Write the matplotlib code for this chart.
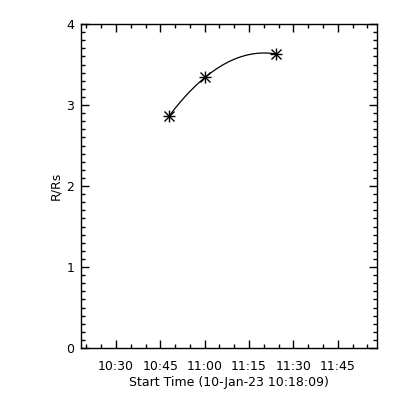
import numpy as np
import matplotlib
matplotlib.use("Agg")
import matplotlib.pyplot as plt
import matplotlib.dates as mdates
from matplotlib.ticker import MultipleLocator
from datetime import datetime, timedelta

# --- Data ---
start_time = datetime(2023, 1, 10, 10, 18, 9)
obs_times = ["10:48:05", "11:00:05", "11:24:05"]
heights = [2.87, 3.34, 3.63]          # R/Rs
x_ticks = ["10:30", "10:45", "11:00", "11:15", "11:30", "11:45"]

FONT_SIZE = 9
plt.rcParams['font.family'] = 'DejaVu Sans'
plt.rcParams['font.size'] = FONT_SIZE

times = [datetime.strptime("2023-01-10 " + t, "%Y-%m-%d %H:%M:%S") for t in obs_times]
tnum = mdates.date2num(times)

# quadratic height-time fit through the points
coef = np.polyfit(tnum, heights, 2)
tfit = np.linspace(tnum[0], tnum[-1], 200)
hfit = np.polyval(coef, tfit)

fig = plt.figure(figsize=(4, 4), dpi=100)
ax = fig.add_axes([0.2025, 0.13, 0.739, 0.81])

ax.plot(tfit, hfit, color='black', linewidth=0.9)
ax.plot(tnum, heights, linestyle='none', marker='+', markersize=9,
        markeredgewidth=1.0, color='black')
ax.plot(tnum, heights, linestyle='none', marker='x', markersize=6.5,
        markeredgewidth=1.0, color='black')

# axis ranges
ax.set_xlim(mdates.date2num(start_time),
            mdates.date2num(start_time + timedelta(minutes=100)))
ax.set_ylim(0, 4)

# x ticks
tick_pos = [mdates.date2num(datetime.strptime("2023-01-10 " + t, "%Y-%m-%d %H:%M"))
            for t in x_ticks]
ax.set_xticks(tick_pos)
ax.set_xticklabels(x_ticks)
ax.xaxis.set_minor_locator(mdates.MinuteLocator(byminute=range(0, 60, 5)))

# y ticks
ax.set_yticks([0, 1, 2, 3, 4])
ax.yaxis.set_minor_locator(MultipleLocator(0.1))

ax.tick_params(which='both', direction='in', top=True, right=True,
               color='black', width=1.0)
ax.tick_params(which='major', length=6)
ax.tick_params(which='minor', length=3)
ax.tick_params(axis='x', which='major', pad=9)
ax.tick_params(axis='y', which='major', pad=5)
for s in ax.spines.values():
    s.set_linewidth(1.0)

ax.set_xlabel("Start Time (10-Jan-23 10:18:09)", labelpad=2)
ax.set_ylabel("R/Rs", labelpad=3)

plt.savefig("out.png", dpi=100)
